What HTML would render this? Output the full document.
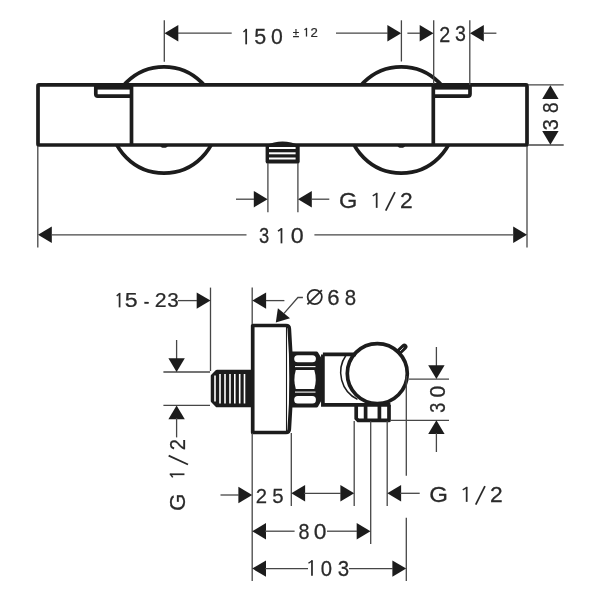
<!DOCTYPE html>
<html><head><meta charset="utf-8"><style>
html,body{margin:0;padding:0;background:#fff;width:600px;height:600px;overflow:hidden}
svg{display:block}
</style></head><body>
<svg width="600" height="600" viewBox="0 0 600 600">
<rect width="600" height="600" fill="#fff"/>
<circle cx="164" cy="120" r="53.2" fill="#fff" stroke="#1c1c1c" stroke-width="3.7"/>
<circle cx="401.3" cy="120" r="53.2" fill="#fff" stroke="#1c1c1c" stroke-width="3.7"/>
<rect x="38" y="84.9" width="489" height="60.1" fill="#fff" stroke="#1c1c1c" stroke-width="3.7" rx="1"/>
<path d="M95.8,85 L95.8,94 Q95.8,96.1 97.8,96.1 L131.5,96.1" fill="none" stroke="#1c1c1c" stroke-width="3.7"/>
<rect x="95.8" y="85" width="35.7" height="4.6" fill="#1c1c1c"/>
<path d="M470,85 L470,94 Q470,96.1 468,96.1 L433.3,96.1" fill="none" stroke="#1c1c1c" stroke-width="3.7"/>
<rect x="433.3" y="85" width="36.7" height="4.6" fill="#1c1c1c"/>
<line x1="131.5" y1="85" x2="131.5" y2="145" stroke="#1c1c1c" stroke-width="3.7"/>
<line x1="433.3" y1="85" x2="433.3" y2="145" stroke="#1c1c1c" stroke-width="3.7"/>
<ellipse cx="164" cy="146" rx="3.6" ry="1.8" fill="#1c1c1c"/>
<ellipse cx="401.3" cy="146" rx="3.6" ry="1.8" fill="#1c1c1c"/>
<path d="M265.6,145.5 Q282.5,137.6 299.7,145.5 L299.7,161.4 Q299.7,163.6 297.5,163.6 L267.8,163.6 Q265.6,163.6 265.6,161.4 Z" fill="#1c1c1c"/>
<rect x="269" y="147" width="26.6" height="2" fill="#fff"/>
<rect x="269" y="152.3" width="26.6" height="2" fill="#fff"/>
<rect x="269" y="157.5" width="26.6" height="2" fill="#fff"/>
<line x1="164.3" y1="20.3" x2="164.3" y2="61.7" stroke="#464646" stroke-width="1.3"/>
<line x1="401.4" y1="20.3" x2="401.4" y2="61.5" stroke="#464646" stroke-width="1.3"/>
<line x1="433.7" y1="20.3" x2="433.7" y2="84" stroke="#464646" stroke-width="1.3"/>
<line x1="469.8" y1="20.3" x2="469.8" y2="85" stroke="#464646" stroke-width="1.3"/>
<polygon points="164.5,33.2 178.3,25.000000000000004 178.3,41.400000000000006" fill="#1c1c1c"/>
<line x1="178" y1="33.2" x2="231.7" y2="33.2" stroke="#464646" stroke-width="1.3"/>
<polygon points="401.2,33.2 387.4,25.000000000000004 387.4,41.400000000000006" fill="#1c1c1c"/>
<line x1="336" y1="33.2" x2="388" y2="33.2" stroke="#464646" stroke-width="1.3"/>
<polygon points="433.5,33.2 419.7,25.000000000000004 419.7,41.400000000000006" fill="#1c1c1c"/>
<line x1="407.4" y1="33.2" x2="420" y2="33.2" stroke="#464646" stroke-width="1.3"/>
<polygon points="470,33.2 483.8,25.000000000000004 483.8,41.400000000000006" fill="#1c1c1c"/>
<line x1="483" y1="33.2" x2="496.4" y2="33.2" stroke="#464646" stroke-width="1.3"/>
<line x1="528" y1="84.9" x2="563.7" y2="84.9" stroke="#464646" stroke-width="1.3"/>
<line x1="528" y1="145" x2="563.7" y2="145" stroke="#464646" stroke-width="1.3"/>
<polygon points="550.4,85.2 542.1999999999999,99.0 558.6,99.0" fill="#1c1c1c"/>
<polygon points="550.4,144.7 542.1999999999999,130.89999999999998 558.6,130.89999999999998" fill="#1c1c1c"/>
<line x1="267.9" y1="163" x2="267.9" y2="212.3" stroke="#464646" stroke-width="1.3"/>
<line x1="297.9" y1="163" x2="297.9" y2="212.3" stroke="#464646" stroke-width="1.3"/>
<polygon points="267.6,199.2 253.8,191.0 253.8,207.39999999999998" fill="#1c1c1c"/>
<line x1="236" y1="199.2" x2="254" y2="199.2" stroke="#464646" stroke-width="1.3"/>
<polygon points="298,199.2 311.8,191.0 311.8,207.39999999999998" fill="#1c1c1c"/>
<line x1="311" y1="199.2" x2="329.3" y2="199.2" stroke="#464646" stroke-width="1.3"/>
<line x1="37.8" y1="146" x2="37.8" y2="247.5" stroke="#464646" stroke-width="1.3"/>
<line x1="527" y1="146" x2="527" y2="247.5" stroke="#464646" stroke-width="1.3"/>
<polygon points="38,234.8 51.8,226.60000000000002 51.8,243.0" fill="#1c1c1c"/>
<line x1="51" y1="234.8" x2="246.5" y2="234.8" stroke="#464646" stroke-width="1.3"/>
<polygon points="527,234.8 513.2,226.60000000000002 513.2,243.0" fill="#1c1c1c"/>
<line x1="314.4" y1="234.8" x2="514" y2="234.8" stroke="#464646" stroke-width="1.3"/>
<path d="M217,371.5 L253,371.5 L253,405.5 L217,405.5 L212.6,401 L212.6,376 Z" fill="#1c1c1c" stroke="#1c1c1c" stroke-width="3.7" stroke-linejoin="round"/>
<rect x="214.2" y="375.5" width="1.6" height="26.0" fill="#fff"/>
<rect x="219.2" y="374" width="1.6" height="29.5" fill="#fff"/>
<rect x="224.2" y="374" width="1.6" height="29.5" fill="#fff"/>
<rect x="229.2" y="374" width="1.6" height="29.5" fill="#fff"/>
<rect x="234.0" y="374" width="1.6" height="29.5" fill="#fff"/>
<rect x="238.89999999999998" y="374" width="1.6" height="29.5" fill="#fff"/>
<rect x="243.7" y="374" width="1.6" height="29.5" fill="#fff"/>
<path d="M252.7,432.5 L252.7,325.5 L286,325.5 Q289.2,325.5 289.3,328.8 Q293.2,379 289.3,429.2 Q289.2,432.5 286,432.5 Z" fill="#fff" stroke="#1c1c1c" stroke-width="3.7" stroke-linejoin="round"/>
<line x1="286.5" y1="327" x2="286.5" y2="431" stroke="#1c1c1c" stroke-width="1.1"/>
<path d="M291.5,353.4 L316.5,353.4 L319.8,359 Q321,379 319.8,399.5 L316.5,405.6 L291.5,405.6 Z" fill="#1c1c1c" stroke="#1c1c1c" stroke-width="3.7" stroke-linejoin="round"/>
<rect x="294.2" y="355.3" width="21.7" height="7" rx="3.5" fill="#fff"/>
<rect x="294.2" y="395.9" width="21.7" height="7.6" rx="3.5" fill="#fff"/>
<path d="M295.8,370 L314.3,370 Q317.2,379.5 314.3,389 L295.8,389 Q293,379.5 295.8,370 Z" fill="#fff"/>
<line x1="295" y1="366.6" x2="315.5" y2="366.6" stroke="#fff" stroke-width="1.1"/>
<line x1="295" y1="392.1" x2="315.5" y2="392.1" stroke="#fff" stroke-width="1.1"/>
<path d="M322.9,354.4 L356,354.4 M322.9,354.4 L322.9,404.8 L390.4,404.8" fill="none" stroke="#1c1c1c" stroke-width="3.7"/>
<path d="M346,355.3 A30,30 0 0 0 357.5,399.3" fill="none" stroke="#1c1c1c" stroke-width="1.5"/>
<path d="M356.2,404.8 L356.2,418.5 L358.2,420.4 L389,420.4 L389,404.8" fill="none" stroke="#1c1c1c" stroke-width="3.7" stroke-linejoin="round"/>
<line x1="365.6" y1="404.8" x2="365.6" y2="420.4" stroke="#1c1c1c" stroke-width="3.7"/>
<line x1="379.4" y1="404.8" x2="379.4" y2="420.4" stroke="#1c1c1c" stroke-width="3.7"/>
<circle cx="377.3" cy="373.6" r="30" fill="none" stroke="#1c1c1c" stroke-width="3.7"/>
<line x1="399.6" y1="351.3" x2="404.3" y2="346.8" stroke="#1c1c1c" stroke-width="6.3" stroke-linecap="round"/>
<line x1="400" y1="351" x2="403.5" y2="347.6" stroke="#fff" stroke-width="0.8"/>
<line x1="210.5" y1="287.6" x2="210.5" y2="371" stroke="#464646" stroke-width="1.3"/>
<polygon points="210.5,300.6 196.7,292.40000000000003 196.7,308.8" fill="#1c1c1c"/>
<line x1="178" y1="300.6" x2="197" y2="300.6" stroke="#464646" stroke-width="1.3"/>
<line x1="252.2" y1="287.6" x2="252.2" y2="324" stroke="#464646" stroke-width="1.3"/>
<polygon points="252.3,300.6 266.1,292.40000000000003 266.1,308.8" fill="#1c1c1c"/>
<line x1="266" y1="300.6" x2="284.4" y2="300.6" stroke="#464646" stroke-width="1.3"/>
<path d="M302.9,297.5 L297.9,297.5 L284,313.4" fill="none" stroke="#464646" stroke-width="1.3"/>
<polygon points="275.8,322.5 277.9,308.2 290,318.2" fill="#1c1c1c"/>
<line x1="163.4" y1="372" x2="210" y2="372" stroke="#464646" stroke-width="1.3"/>
<line x1="163.4" y1="405.4" x2="210" y2="405.4" stroke="#464646" stroke-width="1.3"/>
<line x1="176.6" y1="340" x2="176.6" y2="359" stroke="#464646" stroke-width="1.3"/>
<polygon points="176.6,372 168.4,358.2 184.79999999999998,358.2" fill="#1c1c1c"/>
<polygon points="176.6,405.4 168.4,419.2 184.79999999999998,419.2" fill="#1c1c1c"/>
<line x1="176.6" y1="418" x2="176.6" y2="437.4" stroke="#464646" stroke-width="1.3"/>
<line x1="409" y1="379.1" x2="449" y2="379.1" stroke="#464646" stroke-width="1.3"/>
<line x1="390" y1="420.3" x2="449" y2="420.3" stroke="#464646" stroke-width="1.3"/>
<line x1="436.4" y1="347" x2="436.4" y2="366" stroke="#464646" stroke-width="1.3"/>
<polygon points="436.4,379.1 428.2,365.3 444.59999999999997,365.3" fill="#1c1c1c"/>
<polygon points="436.4,420.3 428.2,434.1 444.59999999999997,434.1" fill="#1c1c1c"/>
<line x1="436.4" y1="433" x2="436.4" y2="452" stroke="#464646" stroke-width="1.3"/>
<line x1="252.2" y1="433" x2="252.2" y2="581" stroke="#464646" stroke-width="1.3"/>
<line x1="291.3" y1="433" x2="291.3" y2="506" stroke="#464646" stroke-width="1.3"/>
<line x1="354.2" y1="421" x2="354.2" y2="506" stroke="#464646" stroke-width="1.3"/>
<line x1="370.7" y1="421" x2="370.7" y2="544" stroke="#464646" stroke-width="1.3"/>
<line x1="387.2" y1="421" x2="387.2" y2="506" stroke="#464646" stroke-width="1.3"/>
<line x1="406.3" y1="376" x2="406.3" y2="475.8" stroke="#464646" stroke-width="1.3"/>
<line x1="406.3" y1="517.8" x2="406.3" y2="581" stroke="#464646" stroke-width="1.3"/>
<polygon points="252.2,495 238.39999999999998,486.8 238.39999999999998,503.2" fill="#1c1c1c"/>
<line x1="220.5" y1="495" x2="239" y2="495" stroke="#464646" stroke-width="1.3"/>
<polygon points="291.3,493.3 305.1,485.1 305.1,501.5" fill="#1c1c1c"/>
<polygon points="354.2,493.3 340.4,485.1 340.4,501.5" fill="#1c1c1c"/>
<line x1="304" y1="493.3" x2="341" y2="493.3" stroke="#464646" stroke-width="1.3"/>
<polygon points="387.3,493.3 401.1,485.1 401.1,501.5" fill="#1c1c1c"/>
<line x1="400" y1="493.3" x2="419.7" y2="493.3" stroke="#464646" stroke-width="1.3"/>
<polygon points="252.2,531.2 266.0,523.0 266.0,539.4000000000001" fill="#1c1c1c"/>
<line x1="265" y1="531.2" x2="294.6" y2="531.2" stroke="#464646" stroke-width="1.3"/>
<polygon points="370.5,531.2 356.7,523.0 356.7,539.4000000000001" fill="#1c1c1c"/>
<line x1="327" y1="531.2" x2="357" y2="531.2" stroke="#464646" stroke-width="1.3"/>
<polygon points="252.2,568.6 266.0,560.4 266.0,576.8000000000001" fill="#1c1c1c"/>
<line x1="265" y1="568.6" x2="308" y2="568.6" stroke="#464646" stroke-width="1.3"/>
<polygon points="406.2,568.6 392.4,560.4 392.4,576.8000000000001" fill="#1c1c1c"/>
<line x1="349" y1="568.6" x2="393" y2="568.6" stroke="#464646" stroke-width="1.3"/>
<g font-family="Liberation Sans, sans-serif" fill="#2a2a2a" stroke="#2a2a2a" stroke-width="0.25" style="opacity:0.999">
<line x1="246.17" y1="28.85" x2="246.17" y2="44.35" stroke="#2a2a2a" stroke-width="1.75"/>
<line x1="243.45" y1="31.95" x2="246.47" y2="29.45" stroke="#2a2a2a" stroke-width="1.49"/>
<text transform="translate(260.25,36.60) scale(1.024,1.058) translate(-5.82,7.12)" font-size="21">5</text>
<text transform="translate(276.98,36.60) scale(1.011,1.042) translate(-5.84,7.23)" font-size="21">0</text>
<text transform="translate(296.00,32.50) scale(0.902,1.047) translate(-3.57,3.87)" font-size="13">±</text>
<line x1="306.49" y1="27.85" x2="306.49" y2="36.55" stroke="#2a2a2a" stroke-width="1.3125"/>
<line x1="304.45" y1="29.83" x2="306.79" y2="28.45" stroke="#2a2a2a" stroke-width="1.12"/>
<text transform="translate(314.15,32.20) scale(1.013,0.958) translate(-3.61,4.54)" font-size="13">2</text>
<text transform="translate(444.65,34.00) scale(0.941,1.030) translate(-5.84,7.33)" font-size="21">2</text>
<text transform="translate(460.50,34.00) scale(0.934,1.016) translate(-5.78,7.23)" font-size="21">3</text>
<text transform="translate(550.30,124.85) rotate(-90) scale(0.944,1.056) translate(-5.78,7.23)" font-size="21">3</text>
<text transform="translate(550.30,107.65) rotate(-90) scale(0.913,1.056) translate(-5.84,7.23)" font-size="21">8</text>
<text transform="translate(347.85,200.35) scale(1.123,1.009) translate(-7.91,7.23)" font-size="21">G</text>
<line x1="376.68" y1="192.85" x2="376.68" y2="207.85" stroke="#2a2a2a" stroke-width="1.75"/>
<line x1="372.75" y1="195.90" x2="376.98" y2="193.45" stroke="#2a2a2a" stroke-width="1.49"/>
<line x1="385.75" y1="210.55" x2="394.95" y2="192.05" stroke="#2a2a2a" stroke-width="1.75"/>
<text transform="translate(406.35,200.35) scale(1.087,1.023) translate(-5.84,7.33)" font-size="21">2</text>
<text transform="translate(264.00,235.75) scale(0.874,1.022) translate(-5.78,7.23)" font-size="21">3</text>
<line x1="281.48" y1="228.15" x2="281.48" y2="243.35" stroke="#2a2a2a" stroke-width="1.75"/>
<line x1="277.95" y1="231.23" x2="281.78" y2="228.75" stroke="#2a2a2a" stroke-width="1.49"/>
<text transform="translate(297.30,235.75) scale(1.106,1.022) translate(-5.84,7.23)" font-size="21">0</text>
<line x1="119.58" y1="292.90" x2="119.58" y2="307.35" stroke="#2a2a2a" stroke-width="1.7439655172413848"/>
<line x1="116.70" y1="295.86" x2="119.88" y2="293.50" stroke="#2a2a2a" stroke-width="1.48"/>
<text transform="translate(131.25,300.12) scale(1.105,0.986) translate(-5.82,7.12)" font-size="21">5</text>
<text transform="translate(160.60,300.12) scale(1.014,0.985) translate(-5.84,7.33)" font-size="21">2</text>
<text transform="translate(173.05,300.12) scale(0.984,0.972) translate(-5.78,7.23)" font-size="21">3</text>
<rect x="144.5" y="302" width="4.2" height="1.7" fill="#2a2a2a"/>
<circle cx="314.75" cy="297" r="7.1" fill="none" stroke="#2a2a2a" stroke-width="1.75"/>
<line x1="307.4" y1="304.4" x2="321.9" y2="290.1" stroke="#2a2a2a" stroke-width="1.75"/>
<text transform="translate(333.45,297.25) scale(1.053,1.022) translate(-5.91,7.23)" font-size="21">6</text>
<text transform="translate(350.35,297.25) scale(0.974,1.022) translate(-5.84,7.23)" font-size="21">8</text>
<text transform="translate(437.00,407.70) rotate(-90) scale(0.854,1.042) translate(-5.78,7.23)" font-size="21">3</text>
<text transform="translate(437.00,391.48) rotate(-90) scale(1.011,1.042) translate(-5.84,7.23)" font-size="21">0</text>
<text transform="translate(177.10,444.75) rotate(-90) scale(0.962,1.057) translate(-5.84,7.33)" font-size="21">2</text>
<line x1="168.65" y1="455.65" x2="188.00" y2="464.55" stroke="#2a2a2a" stroke-width="1.75"/>
<line x1="169.75" y1="474.27" x2="184.45" y2="474.27" stroke="#2a2a2a" stroke-width="1.75"/>
<line x1="172.75" y1="477.35" x2="170.35" y2="473.97" stroke="#2a2a2a" stroke-width="1.49"/>
<text transform="translate(177.00,502.50) rotate(-90) scale(1.072,1.056) translate(-7.91,7.23)" font-size="21">G</text>
<text transform="translate(261.48,495.40) scale(0.967,1.003) translate(-5.84,7.33)" font-size="21">2</text>
<text transform="translate(277.90,495.50) scale(0.974,1.003) translate(-5.82,7.12)" font-size="21">5</text>
<text transform="translate(438.30,494.35) scale(1.145,1.009) translate(-7.91,7.23)" font-size="21">G</text>
<line x1="466.68" y1="486.85" x2="466.68" y2="501.85" stroke="#2a2a2a" stroke-width="1.75"/>
<line x1="462.75" y1="489.90" x2="466.98" y2="487.45" stroke="#2a2a2a" stroke-width="1.49"/>
<line x1="475.75" y1="504.55" x2="484.95" y2="486.05" stroke="#2a2a2a" stroke-width="1.75"/>
<text transform="translate(496.35,494.35) scale(1.087,1.023) translate(-5.84,7.33)" font-size="21">2</text>
<text transform="translate(303.98,531.33) scale(0.939,1.046) translate(-5.84,7.23)" font-size="21">8</text>
<text transform="translate(320.20,531.33) scale(1.086,1.046) translate(-5.84,7.23)" font-size="21">0</text>
<line x1="311.98" y1="560.15" x2="311.98" y2="575.85" stroke="#2a2a2a" stroke-width="1.75"/>
<line x1="308.45" y1="563.25" x2="312.28" y2="560.75" stroke="#2a2a2a" stroke-width="1.49"/>
<text transform="translate(326.50,568.00) scale(0.966,1.056) translate(-5.84,7.23)" font-size="21">0</text>
<text transform="translate(343.50,568.00) scale(0.974,1.056) translate(-5.78,7.23)" font-size="21">3</text>
</g>
</svg></body></html>
